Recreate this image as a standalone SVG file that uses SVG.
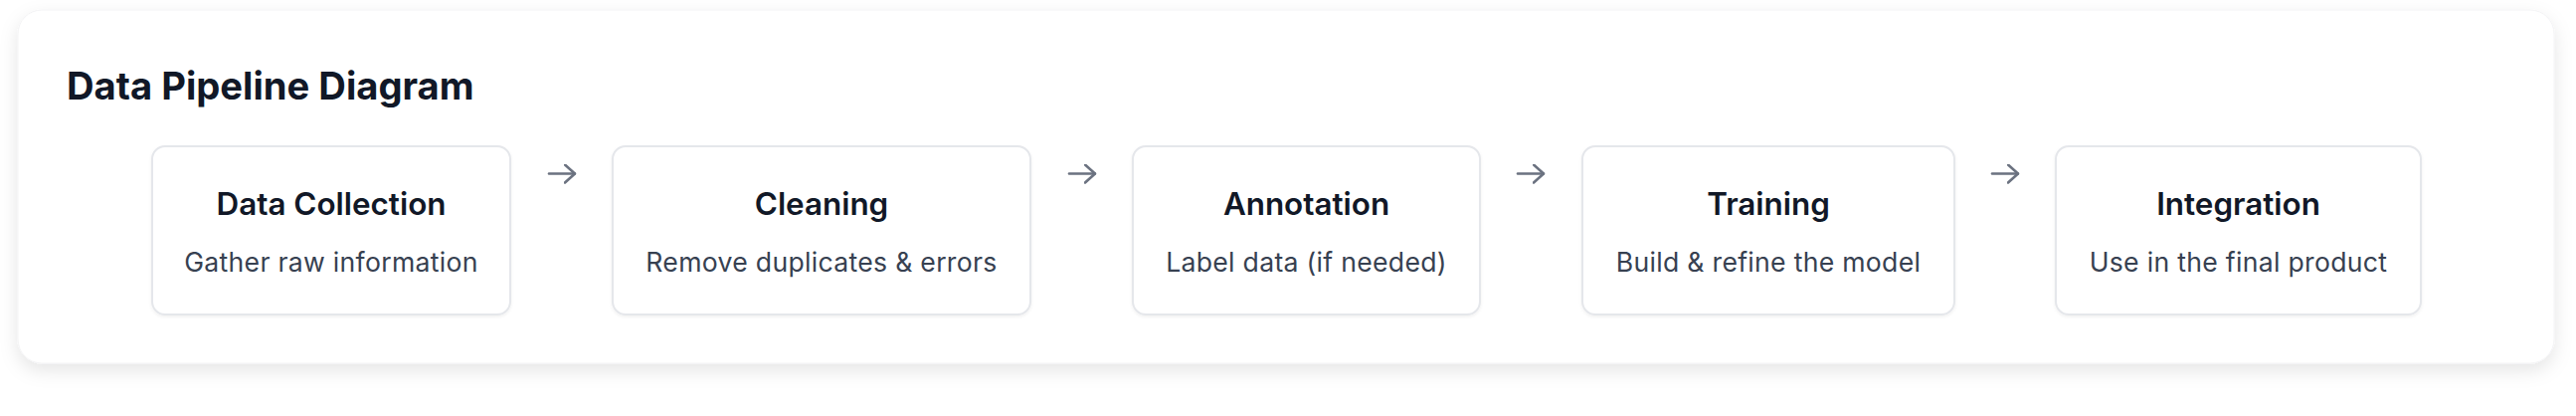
<svg xmlns="http://www.w3.org/2000/svg" width="2590" height="418" viewBox="0 0 2590 418">
  <defs>
    <filter id="cardShadow" x="-5%" y="-20%" width="110%" height="150%">
      <feDropShadow dx="0" dy="7" stdDeviation="9" flood-color="#000000" flood-opacity="0.10"/>
    </filter>
    <filter id="boxShadow" x="-5%" y="-10%" width="110%" height="130%">
      <feDropShadow dx="0" dy="1.5" stdDeviation="1.5" flood-color="#000000" flood-opacity="0.06"/>
    </filter>
    <marker id="arrowHead" viewBox="0 0 12 20" refX="11" refY="10" markerWidth="12" markerHeight="20" markerUnits="userSpaceOnUse" orient="auto">
      <path d="M1 1 L11 10 L1 19" fill="none" stroke="#6b7280" stroke-width="2.6" stroke-linecap="round" stroke-linejoin="round"/>
    </marker>
    <style>
      .card { fill: #ffffff; stroke: #f3f3f5; stroke-width: 1; }
      .box { fill: #ffffff; stroke: #e5e7eb; stroke-width: 2; }
      .title { font-family: Inter, "Liberation Sans", sans-serif; font-weight: 700; font-size: 38.2px; fill: #111827; }
      .ntitle { font-family: Inter, "Liberation Sans", sans-serif; font-weight: 600; font-size: 31.4px; fill: #111827; text-anchor: middle; }
      .nsub { font-family: Inter, "Liberation Sans", sans-serif; font-weight: 400; font-size: 26.6px; letter-spacing: 0.3px; fill: #374151; text-anchor: middle; }
      .conn { fill: none; stroke: #6b7280; stroke-width: 2.6; stroke-linecap: round; }
    </style>
  </defs>

  <rect width="2590" height="418" fill="#ffffff"/>

  <g id="card">
    <rect class="card" x="18" y="10" width="2550" height="355" rx="24" ry="24" filter="url(#cardShadow)"/>
    <text class="title" x="67" y="99.5">Data Pipeline Diagram</text>
  </g>

  <g id="connectors">
    <path class="conn" d="M552 174.5 H578" marker-end="url(#arrowHead)"/>
    <path class="conn" d="M1075 174.5 H1101" marker-end="url(#arrowHead)"/>
    <path class="conn" d="M1526 174.5 H1552" marker-end="url(#arrowHead)"/>
    <path class="conn" d="M2003 174.5 H2029" marker-end="url(#arrowHead)"/>
  </g>

  <g id="node-data-collection">
    <rect class="box" x="153" y="147" width="360" height="169" rx="13" ry="13" filter="url(#boxShadow)"/>
    <text class="ntitle" x="333" y="216">Data Collection</text>
    <text class="nsub" x="333" y="273.3">Gather raw information</text>
  </g>

  <g id="node-cleaning">
    <rect class="box" x="616" y="147" width="420" height="169" rx="13" ry="13" filter="url(#boxShadow)"/>
    <text class="ntitle" x="826" y="216">Cleaning</text>
    <text class="nsub" x="826" y="273.3">Remove duplicates &amp; errors</text>
  </g>

  <g id="node-annotation">
    <rect class="box" x="1139" y="147" width="349" height="169" rx="13" ry="13" filter="url(#boxShadow)"/>
    <text class="ntitle" x="1313.5" y="216">Annotation</text>
    <text class="nsub" x="1313.5" y="273.3">Label data (if needed)</text>
  </g>

  <g id="node-training">
    <rect class="box" x="1591" y="147" width="374" height="169" rx="13" ry="13" filter="url(#boxShadow)"/>
    <text class="ntitle" x="1778" y="216">Training</text>
    <text class="nsub" x="1778" y="273.3">Build &amp; refine the model</text>
  </g>

  <g id="node-integration">
    <rect class="box" x="2067" y="147" width="367" height="169" rx="13" ry="13" filter="url(#boxShadow)"/>
    <text class="ntitle" x="2250.5" y="216">Integration</text>
    <text class="nsub" x="2250.5" y="273.3">Use in the final product</text>
  </g>
</svg>
